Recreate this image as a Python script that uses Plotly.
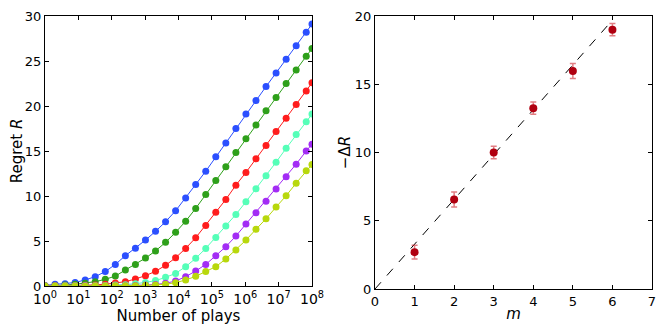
import plotly.graph_objects as go

# ---- data ----
plays = [2 ** k for k in range(27)] + [1e8]

blue = [0.05, 0.2, 0.26, 0.4, 0.67, 1.04, 1.6, 2.4, 3.37, 4.2, 5.1, 6.07, 7.14, 8.36,
        9.77, 11.28, 12.76, 14.35, 15.9, 17.5, 19.1, 20.6, 22.16, 23.68, 25.2, 26.7, 28.2, 29.1]
green = [0.02, 0.05, 0.1, 0.2, 0.3, 0.48, 0.74, 1.1, 1.78, 2.4, 3.1, 3.9, 4.85, 5.96,
         7.2, 8.62, 10.17, 11.73, 13.24, 14.83, 16.35, 17.9, 19.46, 20.94, 22.5, 24.0, 25.53, 26.38]
red = [0.01, 0.02, 0.03, 0.05, 0.08, 0.12, 0.2, 0.33, 0.48, 0.78, 1.15, 1.63, 2.3, 3.14,
       4.18, 5.36, 6.73, 8.2, 9.62, 11.2, 12.62, 14.13, 15.6, 17.17, 18.65, 20.16, 21.68, 22.57]
aqua = [0.01, 0.01, 0.02, 0.02, 0.03, 0.04, 0.06, 0.1, 0.15, 0.25, 0.4, 0.6, 0.96, 1.4,
        2.15, 3.07, 4.18, 5.4, 6.66, 7.95, 9.36, 10.8, 12.25, 13.76, 15.3, 16.83, 18.24, 19.1]
purple = [0.0, 0.01, 0.01, 0.01, 0.02, 0.02, 0.03, 0.03, 0.04, 0.06, 0.1, 0.18, 0.3, 0.55,
          1.04, 1.66, 2.4, 3.37, 4.37, 5.55, 6.88, 8.14, 9.43, 10.77, 12.13, 13.54, 15.0, 15.76]
ygreen = [0.0, 0.0, 0.01, 0.01, 0.01, 0.02, 0.02, 0.03, 0.03, 0.04, 0.07, 0.12, 0.2, 0.37,
          0.67, 1.07, 1.6, 2.15, 3.0, 4.0, 5.1, 6.3, 7.47, 8.77, 10.03, 11.43, 12.8, 13.5]

series = [blue, green, red, aqua, purple, ygreen]
colors = ["#2b4fff", "#2ea01a", "#ff1c1c", "#55ffb8", "#a32cf5", "#b8d80c"]

m_vals = [1, 2, 3, 4, 5, 6]
dR = [2.7, 6.55, 10.0, 13.25, 15.97, 19.0]
dR_err = [0.5, 0.55, 0.45, 0.45, 0.55, 0.45]
fit_m = [0, 6]
fit_dR = [0, 19.7]

x_ticks = [10 ** i for i in range(9)]
x_ticktext = ["10<sup>%d</sup>" % i for i in range(9)]

# ---- figure ----
fig = go.Figure()
for ys, c in zip(series, colors):
    fig.add_trace(go.Scatter(x=plays, y=ys, mode="lines+markers",
                             line=dict(color=c, width=1),
                             marker=dict(color=c, size=7),
                             xaxis="x", yaxis="y", showlegend=False))

fig.add_trace(go.Scatter(x=fit_m, y=fit_dR, mode="lines",
                         line=dict(color="black", width=1, dash="dash"),
                         xaxis="x2", yaxis="y2", showlegend=False))
fig.add_trace(go.Scatter(x=m_vals, y=dR, mode="markers",
                         marker=dict(color="#b00010", size=8),
                         error_y=dict(type="data", array=dR_err, color="rgba(200,20,30,0.55)",
                                      thickness=1.5, width=3),
                         xaxis="x2", yaxis="y2", showlegend=False))

font = dict(family="DejaVu Sans", size=13, color="black")
common = dict(showline=True, linecolor="black", linewidth=1, mirror="ticks",
              ticks="inside", ticklen=4, tickcolor="black", showgrid=False,
              zeroline=False, automargin=False)

# the page body has an 8px margin, so the figure is 8px smaller and coordinates shift by 8
OFF = 8
W, H = 664 - OFF, 332 - OFF
ML, MR, MT, MB = 45 - OFF, 12, 16 - OFF, 43
PW, PH = W - ML - MR, H - MT - MB

def xd(a, b):
    return [(a - OFF - ML) / PW, (b - OFF - ML) / PW]

def yd(bottom, top):
    return [(H - MB - (bottom - OFF)) / PH, (H - MB - (top - OFF)) / PH]

title_font = dict(family="DejaVu Sans", size=15, color="black")

fig.update_layout(
    width=W, height=H,
    margin=dict(l=ML, r=MR, t=MT, b=MB),
    paper_bgcolor="white", plot_bgcolor="white",
    font=font,
    xaxis=dict(type="log", domain=xd(45, 312), range=[0, 8],
               tickvals=x_ticks, ticktext=x_ticktext, anchor="y",
               tickfont=dict(family="DejaVu Sans", size=14, color="black"),
               title=dict(text="Number of plays", font=title_font, standoff=1), **common),
    yaxis=dict(domain=yd(286, 16), range=[0, 30], dtick=5, anchor="x", tickfont=font,
               title=dict(text="Regret <i>R</i>", font=title_font, standoff=8), **common),
    xaxis2=dict(domain=xd(375, 652), range=[0, 7], dtick=1, anchor="y2", tickfont=font,
                title=dict(text="<i>m</i>", font=title_font, standoff=0), **common),
    yaxis2=dict(domain=yd(289, 16), range=[0, 20], dtick=5, anchor="x2", tickfont=font,
                title=dict(text="−Δ<i>R</i>", font=title_font, standoff=0), **common),
)

fig.write_html("out.html")
